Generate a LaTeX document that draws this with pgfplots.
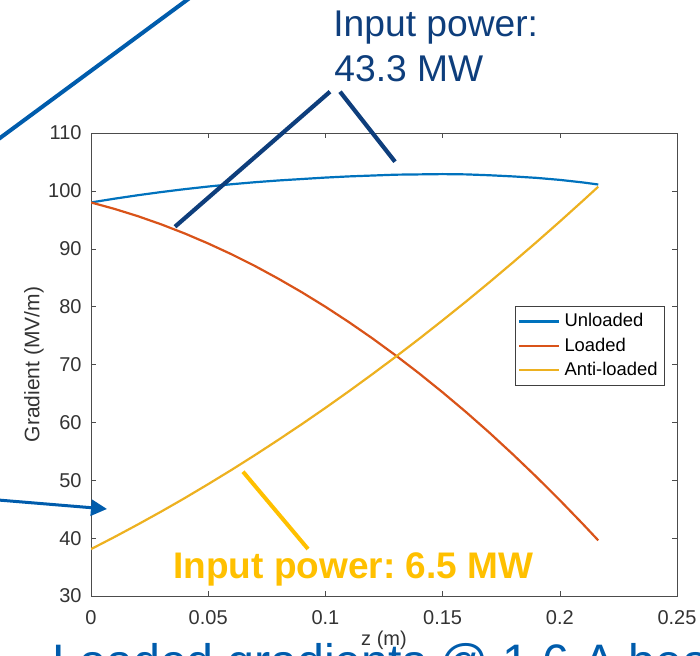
\documentclass[border=0pt]{standalone}
\usepackage{fontspec}
\setmainfont{Liberation Sans}
\usepackage{pgfplots}
\pgfplotsset{compat=1.18}
\usetikzlibrary{arrows.meta}
\frenchspacing

\definecolor{mblue}{rgb}{0,0.447,0.741}
\definecolor{morange}{rgb}{0.85,0.325,0.098}
\definecolor{myellow}{rgb}{0.929,0.694,0.125}
\definecolor{navy}{RGB}{14,62,124}
\definecolor{slideblue}{RGB}{0,92,172}
\definecolor{slideyellow}{RGB}{255,192,0}

\begin{document}
\begin{tikzpicture}
  \begin{axis}[
    at={(45.5pt,-298pt)}, anchor=south west,
    scale only axis, width=293pt, height=231.5pt,
    xmin=0, xmax=0.25, ymin=30, ymax=110,
    xtick={0,0.05,0.1,0.15,0.2,0.25},
    xticklabels={0,0.05,0.1,0.15,0.2,0.25},
    ytick={30,40,...,110},
    tick align=inside, major tick length=2.5pt,
    axis line style={black!70},
    tick style={black!70},
    /pgf/number format/assume math mode=true,
    ticklabel style={font=\fontsize{10}{12}\selectfont, text=black!80},
    yticklabel style={xshift=-1.2pt},
    xticklabel style={yshift=-3.5pt},
    xlabel={z (m)}, ylabel={Gradient (MV/m)},
    every axis x label/.style={at={(axis description cs:0.5,0)}, yshift=-22pt, anchor=center, font=\fontsize{10}{12}\selectfont, text=black!80},
    every axis y label/.style={at={(axis description cs:0,0.5)}, xshift=-28.5pt, rotate=90, anchor=center, font=\fontsize{10.5}{12}\selectfont, text=black!80},
    legend style={at={(0.9795,0.6263)}, anchor=north east, draw=black!75,
      font=\fontsize{9.2}{10}\selectfont, inner sep=1.5pt, row sep=0pt},
    legend cell align=left,
    legend image code/.code={\draw[#1] (0pt,0pt) -- (20pt,0pt);},
    every axis plot/.append style={line width=1.1pt},
  ]
    \addplot[mblue] coordinates {
      (0,98.0) (0.01,98.65) (0.02,99.25) (0.03,99.8) (0.04,100.3) (0.05,100.75)
      (0.06,101.15) (0.07,101.5) (0.08,101.8) (0.09,102.05) (0.10,102.3)
      (0.11,102.5) (0.12,102.65) (0.13,102.8) (0.14,102.85) (0.15,102.9)
      (0.16,102.85) (0.17,102.7) (0.18,102.5) (0.19,102.25) (0.20,101.9)
      (0.21,101.45) (0.2164,101.1)};
    \addlegendentry{Unloaded}
    \addplot[morange] coordinates {
      (0,98.0) (0.01,96.89) (0.02,95.63) (0.03,94.21) (0.04,92.64) (0.05,90.91)
      (0.06,89.04) (0.07,87.01) (0.08,84.81) (0.09,82.47) (0.10,79.98)
      (0.11,77.33) (0.12,74.53) (0.13,71.57) (0.14,68.46) (0.15,65.19)
      (0.16,61.78) (0.17,58.21) (0.18,54.47) (0.19,50.59) (0.20,46.56)
      (0.21,42.37) (0.2164,39.61)};
    \addlegendentry{Loaded}
    \addplot[myellow] coordinates {
      (0,38.1) (0.01,40.19) (0.02,42.36) (0.03,44.60) (0.04,46.92) (0.05,49.33)
      (0.06,51.80) (0.07,54.36) (0.08,57.00) (0.09,59.71) (0.10,62.5)
      (0.11,65.37) (0.12,68.32) (0.13,71.34) (0.14,74.44) (0.15,77.63)
      (0.16,80.88) (0.17,84.22) (0.18,87.64) (0.19,91.13) (0.20,94.7)
      (0.21,98.35) (0.2164,100.72)};
    \addlegendentry{Anti-loaded}
  \end{axis}

  % slide annotations, in pixel units from the top left
  \begin{scope}[x=0.5pt, y=-0.5pt]
    \clip (0,0) rectangle (700,656);
    \draw[slideblue, line width=2pt] (-10,145.4) -- (197,-7.4);
    \draw[navy, line width=2.1pt] (330,91.7) -- (175,226.7);
    \draw[navy, line width=2.1pt] (340,91.7) -- (395,161.7);
    \node[anchor=base west, inner sep=0pt, text=navy, font=\fontsize{18.6}{20}\selectfont] at (333,36.7) {Input power:};
    \node[anchor=base west, inner sep=0pt, text=navy, font=\fontsize{18.6}{20}\selectfont] at (334,81.7) {43.3 MW};
    \draw[slideblue, line width=1.5pt, -{Triangle[length=8pt,width=8pt]}] (-2,500) -- (107,509);
    \draw[slideyellow, line width=2pt] (243,471.7) -- (308,549);
    \node[anchor=base west, inner sep=0pt, text=slideyellow, font=\bfseries\fontsize{18.5}{20}\selectfont] at (173,578.3) {Input power: 6.5 MW};
    \node[anchor=base west, inner sep=0pt, text=slideblue, font=\fontsize{24.2}{28}\selectfont] at (52,678) {Loaded gradients @ 1.6 A beam};
  \end{scope}

  \pgfresetboundingbox
  \path[use as bounding box] (0,0) rectangle (350pt,-328pt);
\end{tikzpicture}
\end{document}
